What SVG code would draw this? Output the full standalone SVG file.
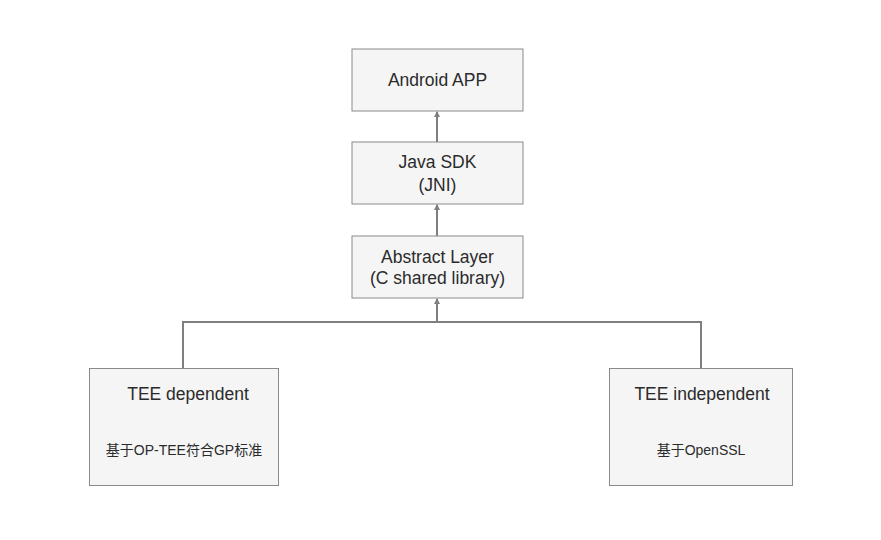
<svg xmlns="http://www.w3.org/2000/svg" width="881" height="540" viewBox="0 0 881 540">
<style>
.box{fill:#f5f5f5;stroke:#8a8a8a;stroke-width:1}
.t{font-family:"Liberation Sans",Arial,sans-serif;font-size:17.5px;fill:#2b2b2b;text-anchor:middle}
.s{font-family:"Liberation Sans","Noto Sans CJK SC",sans-serif;font-size:14px;fill:#2b2b2b;text-anchor:middle}
.c{fill:none;stroke:#7f7f7f;stroke-width:2}
</style>
<defs>
<marker id="ah" viewBox="0 0 6 6" refX="5" refY="3" markerWidth="3.2" markerHeight="3.2" orient="auto" markerUnits="strokeWidth">
<path d="M0,0 L6,3 L0,6 z" fill="#7f7f7f"/>
</marker>
</defs>
<rect width="881" height="540" fill="#ffffff"/>
<g id="connectors">
<line class="c" x1="437" y1="142" x2="437" y2="112" marker-end="url(#ah)"/>
<line class="c" x1="437" y1="236" x2="437" y2="205" marker-end="url(#ah)"/>
<path class="c" d="M183,368 V322 H701 V368"/>
<line class="c" x1="437" y1="322" x2="437" y2="299" marker-end="url(#ah)"/>
</g>
<g id="android-app">
<rect class="box" x="352" y="49" width="171" height="62"/>
<text class="t" x="437.5" y="86">Android APP</text>
</g>
<g id="java-sdk">
<rect class="box" x="352" y="142" width="171" height="62"/>
<text class="t" x="437.5" y="168">Java SDK</text>
<text class="t" x="437.5" y="191">(JNI)</text>
</g>
<g id="abstract-layer">
<rect class="box" x="352" y="236" width="171" height="62"/>
<text class="t" x="437.5" y="263">Abstract Layer</text>
<text class="t" x="437.5" y="284">(C shared library)</text>
</g>
<g id="tee-dependent">
<rect class="box" x="89.500" y="368.500" width="189" height="117"/>
<text class="t" x="188" y="400">TEE dependent</text>
<text class="s" x="184" y="455">基于OP-TEE符合GP标准</text>
</g>
<g id="tee-independent">
<rect class="box" x="609.500" y="368.500" width="183" height="117"/>
<text class="t" x="702" y="400">TEE independent</text>
<text class="s" x="701" y="455">基于OpenSSL</text>
</g>
</svg>
